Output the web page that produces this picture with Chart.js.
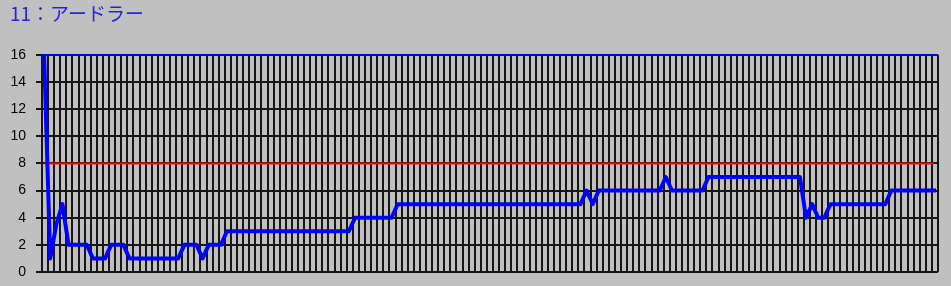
<!DOCTYPE html>
<html>
<head>
<meta charset="utf-8">
<script src="https://cdn.jsdelivr.net/npm/chart.js@4"></script>
<style>
  html, body { margin: 0; padding: 0; background: #c0c0c0; }
  #wrap { width: 951px; height: 286px; position: relative; }
</style>
</head>
<body>
<div id="wrap"><canvas id="c" width="951" height="286"></canvas></div>
<script>
// ---- data ----
const chartTitle = '11：アードラー';
const odds = [
  16, 1, 3.5, 5,
  2, 2, 2, 2,
  1, 1, 1,
  2, 2, 2,
  1, 1, 1, 1, 1, 1, 1, 1, 1,
  2, 2, 2,
  1,
  2, 2, 2,
  3, 3, 3, 3, 3, 3, 3, 3, 3, 3, 3, 3, 3, 3, 3, 3, 3, 3, 3, 3, 3,
  4, 4, 4, 4, 4, 4, 4,
  5, 5, 5, 5, 5, 5, 5, 5, 5, 5, 5, 5, 5, 5, 5, 5, 5, 5, 5, 5, 5, 5, 5, 5, 5, 5, 5, 5, 5, 5, 5,
  6, 5,
  6, 6, 6, 6, 6, 6, 6, 6, 6, 6, 6,
  7,
  6, 6, 6, 6, 6, 6,
  7, 7, 7, 7, 7, 7, 7, 7, 7, 7, 7, 7, 7, 7, 7, 7,
  4, 5, 4, 4,
  5, 5, 5, 5, 5, 5, 5, 5, 5, 5,
  6, 6, 6, 6, 6, 6, 6, 6
];
const referenceLevel = 8;
const yMin = 0, yMax = 16, yStep = 2;
const gridColumns = 147;      // number of vertical grid intervals
const gridOffset = 0.35;      // data points sit slightly right of the grid lines

// ---- chart ----
const dark = '#161616';
new Chart(document.getElementById('c'), {
  type: 'line',
  data: {
    datasets: [
      {
        label: 'odds',
        data: odds.map((v, i) => ({ x: i, y: v })),
        borderColor: '#0000ff',
        borderWidth: 4,
        pointRadius: 0,
        tension: 0,
        borderCapStyle: 'square',
        borderJoinStyle: 'round',
        fill: false
      },
      {
        label: 'reference',
        data: [{ x: 0, y: referenceLevel }, { x: odds.length - 1, y: referenceLevel }],
        borderColor: '#ff0000',
        borderWidth: 2,
        pointRadius: 0,
        fill: false
      }
    ]
  },
  options: {
    responsive: false,
    animation: false,
    events: [],
    layout: { padding: { left: 10, right: 13, top: 0, bottom: 14 } },
    plugins: {
      legend: { display: false },
      tooltip: { enabled: false },
      title: {
        display: true,
        text: chartTitle,
        align: 'start',
        color: '#2424d4',
        font: { family: '"Noto Sans CJK JP", "Noto Sans", sans-serif', size: 19, weight: 'normal', lineHeight: 1.2 },
        padding: { top: 2, bottom: 30 }
      }
    },
    scales: {
      x: {
        type: 'linear',
        min: -gridOffset,
        max: gridColumns - gridOffset,
        afterBuildTicks: (s) => {
          const t = [];
          for (let k = 0; k <= gridColumns; k++) t.push({ value: k - gridOffset });
          s.ticks = t;
        },
        afterFit: (s) => { s.height = 0; },
        ticks: { display: false },
        border: { display: false },
        grid: { color: dark, lineWidth: 2, drawTicks: false }
      },
      y: {
        min: yMin,
        max: yMax,
        afterFit: (s) => { s.width = 32; },
        ticks: {
          stepSize: yStep,
          padding: 10,
          color: '#000',
          font: { family: '"Liberation Sans", Arial, sans-serif', size: 14, lineHeight: 0.5 }
        },
        border: { display: false },
        grid: {
          color: (ctx) => (ctx.tick && ctx.tick.value === yMax ? '#0000ff' : dark),
          tickColor: dark,
          lineWidth: 2,
          tickLength: 6
        }
      }
    }
  }
});
</script>
</body>
</html>
